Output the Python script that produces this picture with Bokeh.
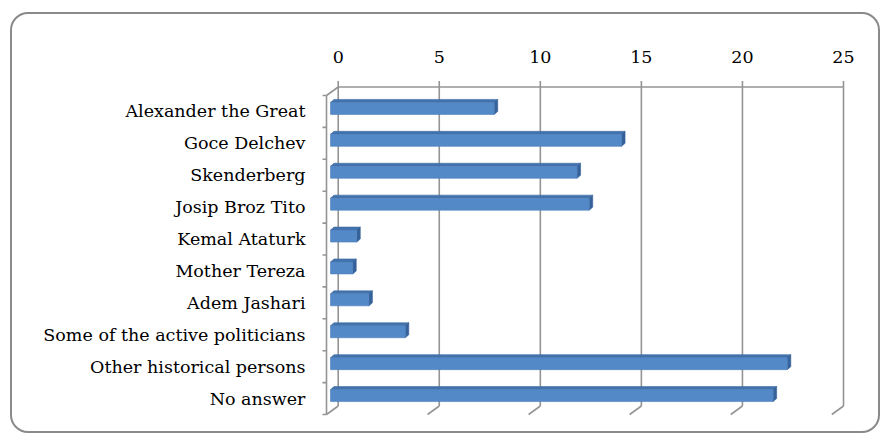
from bokeh.plotting import figure
from bokeh.models import Range1d, LinearAxis, FixedTicker, InlineStyleSheet
from bokeh.embed import file_html
from bokeh.resources import INLINE

# ---------------- data ----------------
categories = [
    "Alexander the Great",
    "Goce Delchev",
    "Skenderberg",
    "Josip Broz Tito",
    "Kemal Ataturk",
    "Mother Tereza",
    "Adem Jashari",
    "Some of the active politicians",
    "Other historical persons",
    "No answer",
]
values = [8.1, 14.4, 12.2, 12.8, 1.3, 1.1, 1.9, 3.7, 22.6, 21.9]
x_ticks = [0, 5, 10, 15, 20, 25]
x_tick_labels = ["0", "5", "10", "15", "20", "25"]

# ---------------- layout constants (pixels) ----------------
W, H = 883, 438
FL, FR, FT, FB = 316, 855, 70, 425      # frame edges
PX = 20.212                              # px per value unit
PY = 31.9                                # px per category
X0 = 326.0                               # front plane value 0
Y0 = 95.0 + PY / 2                       # first category centre (front plane)

x_start, x_end = (FL - X0) / PX, (FR - X0) / PX
y_top, y_bot = (FT - Y0) / PY, (FB - Y0) / PY

# depth offsets in data units
DX, DY = 11.7 / PX, -8.5 / PY            # back wall offset
BDX = 4.0 / PX                           # bar front-face offset
BY = -3.0 / PY                           # bar centre shift
BH = 12.0 / PY                           # bar front-face height
SDX, SDY = 3.5 / PX, -3.0 / PY           # bar depth
TICK_UP = 6.0 / PY
CTICK = 4.0 / PX

n = len(categories)

border_css = InlineStyleSheet(css="""
:host { position: relative; }
:host::after {
  content: "";
  position: absolute;
  left: 10px; top: 12px;
  width: 870px; height: 421px;
  box-sizing: border-box;
  border: 2px solid #8a8a8a;
  border-radius: 18px;
  pointer-events: none;
}
""")

p = figure(width=W, height=H, x_range=Range1d(x_start, x_end),
           y_range=Range1d(y_bot, y_top),
           output_backend="svg", toolbar_location=None,
           x_axis_location=None, y_axis_location=None,
           min_border_left=FL, min_border_right=W - FR,
           min_border_top=FT, min_border_bottom=H - FB,
           stylesheets=[border_css])
p.outline_line_color = None
p.xgrid.visible = False
p.ygrid.visible = False
p.background_fill_color = "white"
p.border_fill_color = "white"

GRID = "#949494"
LW = 1.6

# back wall gridlines + tick extensions + floor diagonals
gx0, gy0, gx1, gy1 = [], [], [], []
for k in x_ticks:
    xb = k + DX
    gx0.append(xb); gy0.append(-0.5 + DY - TICK_UP)
    gx1.append(xb); gy1.append(n - 0.5 + DY)
    gx0.append(xb); gy0.append(n - 0.5 + DY)
    gx1.append(k); gy1.append(n - 0.5)
# top axis line
gx0.append(x_ticks[0] + DX); gy0.append(-0.5 + DY)
gx1.append(x_ticks[-1] + DX); gy1.append(-0.5 + DY)
# top-left diagonal
gx0.append(x_ticks[0] + DX); gy0.append(-0.5 + DY)
gx1.append(0); gy1.append(-0.5)
# front category axis line
gx0.append(0); gy0.append(-0.5)
gx1.append(0); gy1.append(n - 0.5)
# category boundary ticks
for j in range(n + 1):
    gx0.append(-CTICK); gy0.append(j - 0.5)
    gx1.append(0); gy1.append(j - 0.5)
p.segment(gx0, gy0, gx1, gy1, line_color=GRID, line_width=LW)

# ---------------- 3D bars ----------------
ys = [i + BY for i in range(n)]
lefts = [BDX] * n
rights = [v + BDX for v in values]
tops = [y - BH / 2 for y in ys]
bots = [y + BH / 2 for y in ys]

top_xs, top_ys, side_xs, side_ys = [], [], [], []
for L, R, T, B in zip(lefts, rights, tops, bots):
    top_xs.append([L, L + SDX, R + SDX, R])
    top_ys.append([T, T + SDY, T + SDY, T])
    side_xs.append([R, R + SDX, R + SDX, R])
    side_ys.append([T, T + SDY, B + SDY, B])

p.patches(top_xs, top_ys, fill_color="#4373ad", line_color="#3d6aa2", line_width=0.6)
p.patches(side_xs, side_ys, fill_color="#36629b", line_color="#345e95", line_width=0.6)
p.quad(left=lefts, right=rights, top=tops, bottom=bots,
       fill_color="#5489c8", line_color="#4a7dbb", line_width=0.6)

# ---------------- axes (labels only) ----------------
FONT = "DejaVu Serif"
FSIZE = "17.5px"
p.extra_x_ranges = {"back": Range1d(x_start - DX, x_end - DX)}
xa = LinearAxis(x_range_name="back", ticker=FixedTicker(ticks=x_ticks))
xa.major_label_overrides = {k: s for k, s in zip(x_ticks, x_tick_labels)}
xa.axis_line_color = None
xa.major_tick_line_color = None
xa.minor_tick_line_color = None
xa.major_tick_out = 0
xa.major_tick_in = 0
xa.major_label_standoff = 8
xa.major_label_text_font = FONT
xa.major_label_text_font_size = FSIZE
xa.major_label_text_color = "black"
p.add_layout(xa, "above")

ya = LinearAxis(ticker=FixedTicker(ticks=list(range(n))))
ya.major_label_overrides = {i: c for i, c in enumerate(categories)}
ya.axis_line_color = None
ya.major_tick_line_color = None
ya.minor_tick_line_color = None
ya.major_tick_out = 0
ya.major_tick_in = 0
ya.major_label_standoff = 11
ya.major_label_text_font = FONT
ya.major_label_text_font_size = FSIZE
ya.major_label_text_color = "black"
p.add_layout(ya, "left")

open("out.html", "w").write(file_html(p, INLINE))
